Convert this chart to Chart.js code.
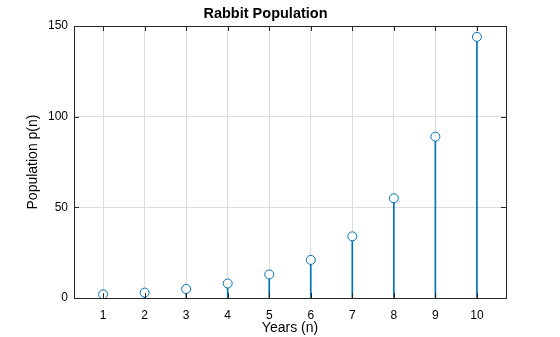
<!DOCTYPE html>
<html>
<head>
<meta charset="utf-8">
<script src="https://cdn.jsdelivr.net/npm/chart.js@4/dist/chart.umd.min.js"></script>
<style>
  html, body { margin: 0; padding: 0; background: #fff; }
  #wrap { width: 560px; height: 337px; }
</style>
</head>
<body>
<div id="wrap"><canvas id="rabbitChart" width="560" height="337"></canvas></div>
<script>
// data
const years = [1, 2, 3, 4, 5, 6, 7, 8, 9, 10];
const population = [2, 3, 5, 8, 13, 21, 34, 55, 89, 144];
const yTicks = [0, 50, 100, 150];

const stemColor = '#0072BD';
const axisColor = '#262626';
const fontFamily = '"Liberation Sans", Arial, Helvetica, sans-serif';

const points = years.map((yr, i) => ({ x: yr, y: population[i] }));

// MATLAB style box with inward ticks on all four sides
const boxTicks = {
    id: 'boxTicks',
    afterDatasetsDraw(chart) {
        const c = chart.ctx;
        const a = chart.chartArea;
        const xs = chart.scales.x, ys = chart.scales.y;
        const len = 5;
        c.save();
        c.strokeStyle = axisColor;
        c.lineWidth = 1;
        c.beginPath();
        years.forEach(v => {
            const px = Math.round(xs.getPixelForValue(v)) + 0.5;
            c.moveTo(px, a.bottom); c.lineTo(px, a.bottom - len);
            c.moveTo(px, a.top); c.lineTo(px, a.top + len);
        });
        yTicks.forEach(v => {
            const py = Math.round(ys.getPixelForValue(v)) + 0.5;
            c.moveTo(a.left, py); c.lineTo(a.left + len, py);
            c.moveTo(a.right, py); c.lineTo(a.right - len, py);
        });
        c.stroke();
        c.strokeRect(Math.round(a.left) + 0.5, Math.round(a.top) + 0.5,
            Math.round(a.right - a.left), Math.round(a.bottom - a.top));
        c.restore();
    }
};

const ctx = document.getElementById('rabbitChart').getContext('2d');
const rabbitChart = new Chart(ctx, {
    type: 'bar',
    data: {
        datasets: [{
            type: 'scatter',
            data: points,
            showLine: false,
            pointStyle: 'circle',
            pointRadius: 4.5,
            pointBorderWidth: 1,
            pointBorderColor: stemColor,
            pointBackgroundColor: '#ffffff',
            order: 0
        }, {
            type: 'bar',
            data: points,
            backgroundColor: stemColor,
            barThickness: 1,
            order: 1
        }]
    },
    options: {
        responsive: false,
        animation: false,
        layout: { padding: { left: 25, right: 54, top: 0, bottom: 0 } },
        plugins: {
            legend: { display: false },
            tooltip: { enabled: false },
            title: {
                display: true,
                text: 'Rabbit Population',
                color: '#000',
                font: { family: fontFamily, size: 14.5, weight: 'bold' },
                padding: { top: 5, bottom: 3.6 }
            }
        },
        scales: {
            x: {
                type: 'linear',
                min: 0.3,
                max: 10.7,
                offset: false,
                afterBuildTicks: s => { s.ticks = years.map(v => ({ value: v })); },
                afterFit: s => { s.height = 39; },
                grid: { color: '#dcdcdc', drawTicks: false, offset: false },
                border: { color: axisColor },
                ticks: {
                    color: '#000',
                    padding: 10,
                    font: { family: fontFamily, size: 12 }
                },
                title: {
                    display: true,
                    text: 'Years (n)',
                    color: '#000',
                    font: { family: fontFamily, size: 14 },
                    padding: { top: 1, bottom: 0 }
                }
            },
            y: {
                min: 0,
                max: 150,
                afterBuildTicks: s => { s.ticks = yTicks.map(v => ({ value: v })); },
                afterFit: s => { s.width = 49; },
                grid: { color: '#dcdcdc', drawTicks: false },
                border: { color: axisColor },
                ticks: {
                    color: '#000',
                    padding: 6,
                    font: { family: fontFamily, size: 12 }
                },
                title: {
                    display: true,
                    text: 'Population p(n)',
                    color: '#000',
                    font: { family: fontFamily, size: 14 },
                    padding: { top: 0, bottom: 0 }
                }
            }
        }
    },
    plugins: [boxTicks]
});
</script>
</body>
</html>
